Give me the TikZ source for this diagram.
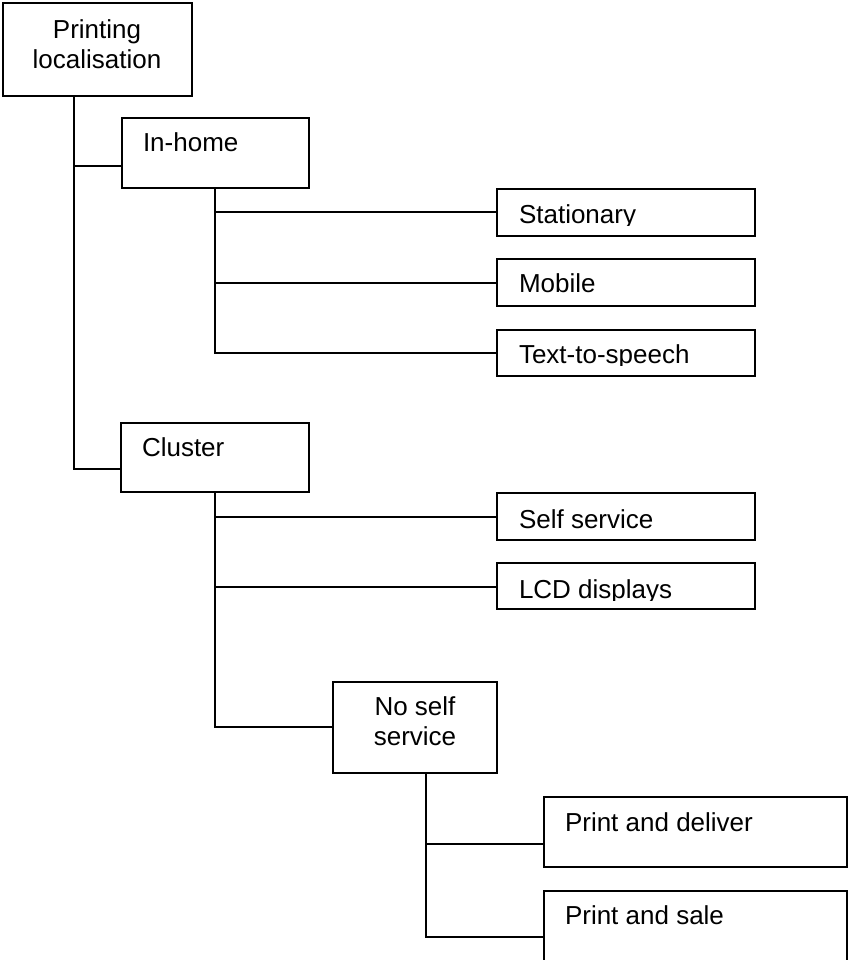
\documentclass[tikz,border=0pt]{standalone}
\usepackage{fontspec}
\setmainfont{Liberation Sans}
\newcommand\cliplabel[4]{%
  \begin{scope}
    \clip (#2-6,#3-30) rectangle (#2+300,#3+2);
    \node[lbl,anchor=base west] (#1) at (#2,#3) {#4};
  \end{scope}}
\begin{document}
\begin{tikzpicture}[x=1pt,y=-1pt,line width=2pt,
  box/.style={draw,rectangle,inner sep=0pt,outer sep=0pt,anchor=north west,line width=2pt},
  lbl/.style={inner sep=0pt,font=\fontsize{26}{30}\selectfont}]
\useasboundingbox (0,0) rectangle (849,960);
% boxes
\node[box,minimum width=189pt,minimum height=93pt] (p) at (3,3) {};
\node[box,minimum width=187pt,minimum height=70pt] (ih) at (122,118) {};
\node[box,minimum width=258pt,minimum height=47pt] (st) at (497,189) {};
\node[box,minimum width=258pt,minimum height=47pt] (mo) at (497,259) {};
\node[box,minimum width=258pt,minimum height=46pt] (tts) at (497,330) {};
\node[box,minimum width=188pt,minimum height=69pt] (cl) at (121,423) {};
\node[box,minimum width=258pt,minimum height=47pt] (ss) at (497,493) {};
\node[box,minimum width=258pt,minimum height=46pt] (lcd) at (497,563) {};
\node[box,minimum width=164pt,minimum height=91pt] (nss) at (333,682) {};
\node[box,minimum width=303pt,minimum height=70pt] (pd) at (544,797) {};
\node[box,minimum width=303pt,minimum height=70pt] (ps) at (544,891) {};
% texts
\node[lbl,align=center,anchor=north] (pt) at (97,18.5) {Printing\\localisation};
\node[lbl,align=center,anchor=north] (nsst) at (415,695.5) {No self\\service};
\cliplabel{iht}{142}{152}{In-home}
\cliplabel{stt}{518}{223}{Stationary}
\cliplabel{mot}{518}{292}{Mobile}
\cliplabel{ttst}{518}{363}{Text-to-speech}
\cliplabel{clt}{141}{456}{Cluster}
\cliplabel{sst}{518}{528}{Self service}
\cliplabel{lcdt}{518}{598}{LCD displays}
\cliplabel{pdt}{564}{831}{Print and deliver}
\cliplabel{pst}{564}{924}{Print and sale}
% connectors
\coordinate (a1) at (74,166);
\coordinate (a2) at (74,469);
\draw (p.south -| a1) -- (a2) -- (cl.west |- a2);
\draw (a1) -- (ih.west |- a1);
\coordinate (b1) at (215,212);
\coordinate (b2) at (215,283);
\coordinate (b3) at (215,353);
\draw (ih.south -| b1) -- (b3) -- (tts.west |- b3);
\draw (b1) -- (st.west |- b1);
\draw (b2) -- (mo.west |- b2);
\coordinate (c1) at (215,517);
\coordinate (c2) at (215,587);
\coordinate (c3) at (215,727);
\draw (cl.south -| c1) -- (c3) -- (nss.west |- c3);
\draw (c1) -- (ss.west |- c1);
\draw (c2) -- (lcd.west |- c2);
\coordinate (d1) at (426,844);
\coordinate (d2) at (426,937);
\draw (nss.south -| d1) -- (d2) -- (ps.west |- d2);
\draw (d1) -- (pd.west |- d1);
\end{tikzpicture}
\end{document}
